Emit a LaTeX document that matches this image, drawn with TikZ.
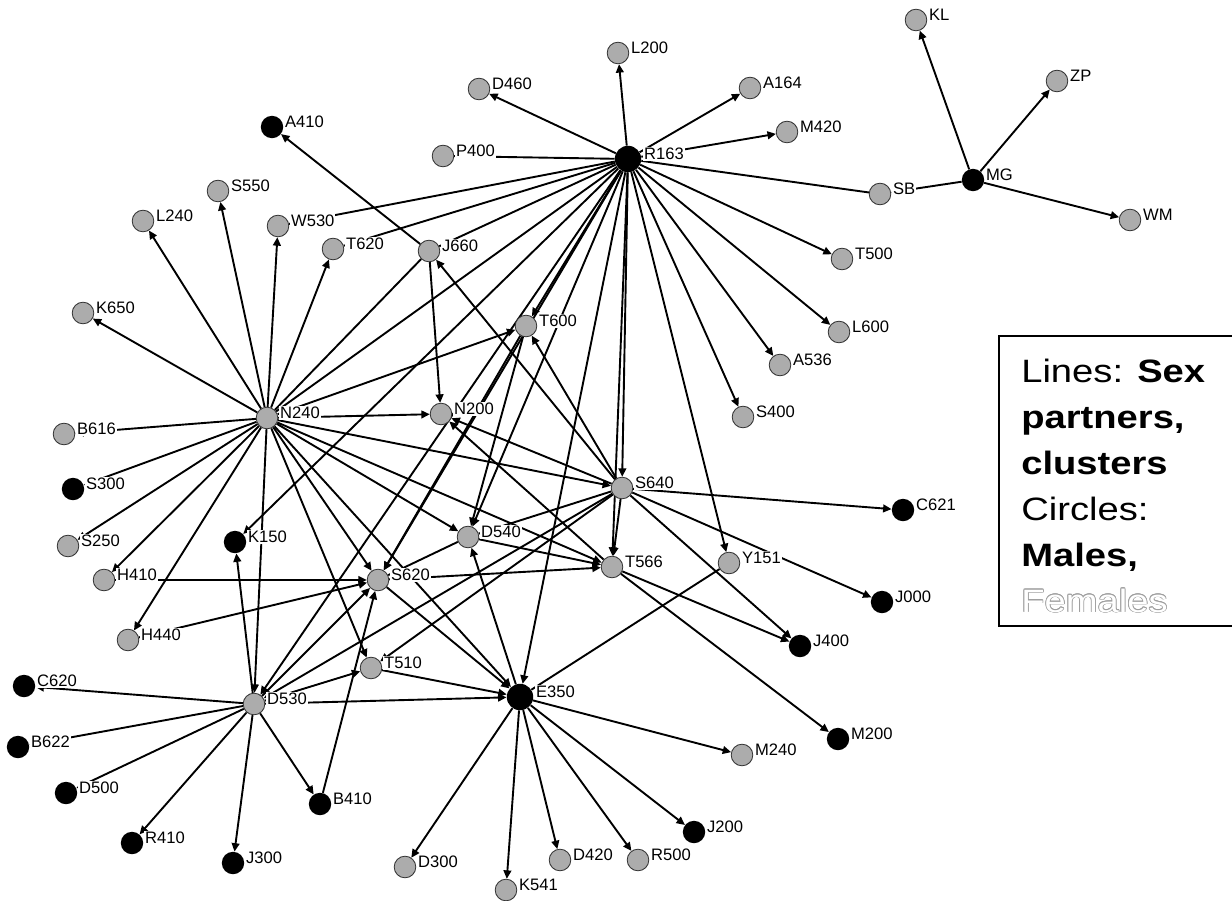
\documentclass[tikz,border=0pt]{standalone}
\usepackage{fontspec}
\setmainfont{Liberation Sans}
\newfontfamily\legfont[FakeStretch=1.18]{Liberation Sans}
\usetikzlibrary{arrows.meta}
\pgfdeclarelayer{background}
\pgfsetlayers{background,main}
\tikzset{
  fem/.style={circle, minimum size=0.54cm, inner sep=0pt, fill=gray!65, draw=gray!40!black, line width=0.6pt},
  mal/.style={circle, minimum size=0.56cm, inner sep=0pt, fill=black},
  bigm/.style={circle, minimum size=0.66cm, inner sep=0pt, fill=black},
  lbl/.style={anchor=west, fill=white, inner sep=0.6pt, font=\fontsize{11.8}{12}\selectfont},
  edgeline/.style={line width=1.35pt, black},
  arr/.style={edgeline, -{Triangle[length=6pt,width=5.5pt]}},
  legtext/.style={anchor=base west, inner sep=0pt, font=\legfont\fontsize{23}{28}\selectfont}
}
\begin{document}
\begin{tikzpicture}[x=0.025cm, y=-0.025cm]
\useasboundingbox (0,0) rectangle (1232,901);
% nodes
\foreach \n/\x/\y/\t in {
 KL/916/20/fem, ZP/1057/81/fem, MG/973/180/mal, WM/1130/220/fem, SB/880/194/fem,
 L200/618/53/fem, D460/479/89/fem, A164/750/88/fem, M420/787/132/fem, R163/628/159/bigm,
 P400/443/156/fem, A410/272/127/mal, S550/218/191/fem, L240/143/221/fem, W530/278/226/fem,
 T620/333/249/fem, J660/429/251/fem, T500/842/259/fem, K650/83/313/fem, T600/526/326/fem,
 L600/839/332/fem, A536/780/365/fem, N240/267/418/fem, N200/441/414/fem, S400/743/417/fem,
 B616/64/434/fem, S640/622/488/fem, S300/73/489/mal, C621/903/510/mal, D540/468/537/fem,
 K150/235/542/mal, S250/68/546/fem, T566/612/567/fem, Y151/729/563/fem, H410/104/580/fem,
 S620/378/580/fem, J000/882/602/mal, H440/128/640/fem, J400/800/646/mal, T510/371/668/fem,
 C620/24/686/mal, D530/254/704/fem, E350/520/697/bigm, M200/838/739/mal, M240/742/755/fem,
 B622/18/747/mal, D500/66/793/mal, B410/320/804/mal, J200/694/832/mal, R410/132/843/mal,
 J300/233/863/mal, D300/405/867/fem, D420/560/860/fem, R500/638/860/fem, K541/506/890/fem}
 { \node[\t] (\n) at (\x,\y) {}; }
% edges
\begin{pgfonlayer}{background}
\foreach \a/\b in {
 R163/L200, R163/D460, R163/A164, R163/M420, R163/T500, R163/L600, R163/A536, R163/S400,
 R163/Y151, R163/S640, R163/T566, R163/E350, R163/T600, R163/K150, R163/S620, R163/D540, R163/D530,
 MG/KL, MG/ZP, MG/WM, MG/SB,
 N240/K650, N240/L240, N240/S550, N240/W530, N240/T620, N240/B616, N240/S300, N240/S250,
 N240/H410, N240/H440, N240/D530, N240/N200, N240/T600, N240/S640, N240/D540, N240/T566,
 N240/S620, N240/T510, N240/E350,
 S640/N200, S640/J660, S640/T600, S640/C621, S640/J000, S640/J400, S640/T566, S640/T510, S640/D530,
 T566/J400, T566/M200, T566/N200, D540/T566, T600/S620, T600/D540, J660/N200, J660/A410,
 S620/T566, S620/E350, H410/S620, H440/S620, D530/S620, B410/S620,
 D530/K150, D530/T510, D530/E350, D530/B410, D530/J300, D530/R410, D530/C620, D530/B622, D530/D500,
 T510/E350,
 E350/M240, E350/J200, E350/R500, E350/D420, E350/K541, E350/D300, E350/D540}
 { \draw[arr] (\a) -- (\b); }
\foreach \a/\b in {R163/P400, R163/SB, R163/W530, R163/T620, R163/J660, R163/N240,
 N240/J660, S640/D540, D540/S620, Y151/E350}
 { \draw[edgeline] (\a) -- (\b); }
\end{pgfonlayer}
% labels
\foreach \n in {KL, ZP, MG, WM, SB, L200, D460, A164, M420, P400, A410, S550, L240, W530,
 T620, J660, T500, K650, T600, L600, A536, N240, N200, S400, B616, S640, S300, C621, D540,
 K150, S250, T566, Y151, H410, S620, J000, H440, J400, T510, C620, D530, M200, M240,
 B622, D500, B410, J200, R410, J300, D300, D420, R500, K541}
 { \node[lbl] (l\n) at ([shift={(12,-5)}]\n.center) {\n}; }
\foreach \n in {R163, E350}
 { \node[lbl] (l\n) at ([shift={(15,-5)}]\n.center) {\n}; }
% legend
\draw[line width=1.3pt, fill=white] (999,336) rectangle (1260,626);
\node[legtext] (leg1) at (1021,382) {Lines: \textbf{Sex}};
\node[legtext] (leg2) at (1021,428) {\textbf{partners,}};
\node[legtext] (leg3) at (1021,474) {\textbf{clusters}};
\node[legtext] (leg4) at (1021,520) {Circles:};
\node[legtext] (leg5) at (1021,566) {\textbf{Males,}};
\foreach \ang in {0,30,...,330}
 { \node[legtext, text=gray!75] at ([shift={(\ang:0.7)}]1021,612) {Females}; }
\node[legtext, text=white] (leg6) at (1021,612) {Females};
\end{tikzpicture}
\end{document}
